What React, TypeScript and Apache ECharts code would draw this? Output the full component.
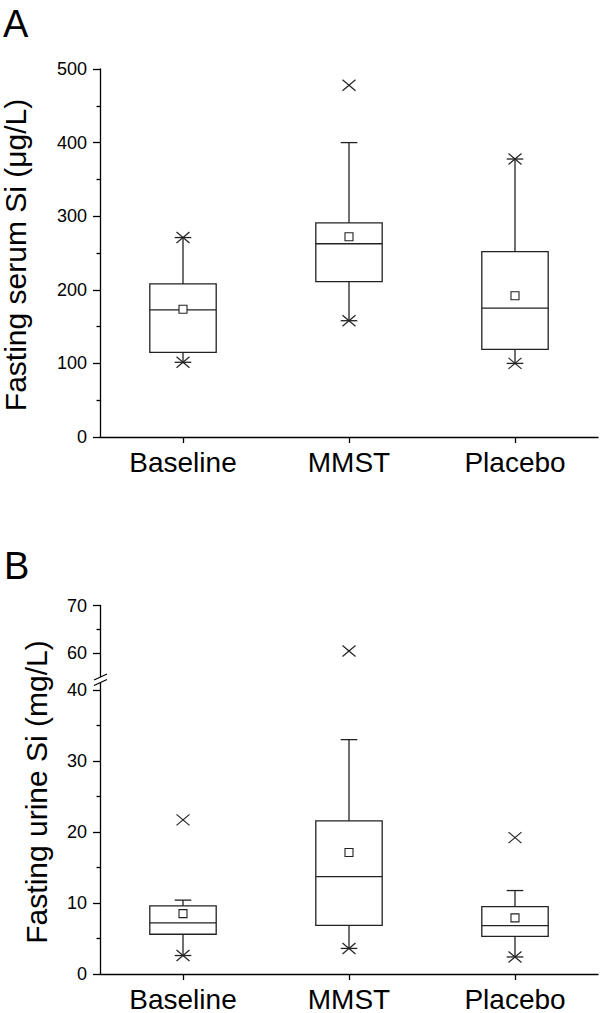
import React, { useEffect, useRef } from "react";
import * as echarts from "echarts";

// ---------- data ----------
const categories = ["Baseline", "MMST", "Placebo"];

// Panel A: fasting serum Si (µg/L)
const serumWhiskerLow = [101.5, 158, 100];
const serumQ1 = [115, 211, 119];
const serumMedian = [172.6, 262.6, 175];
const serumQ3 = [208, 291, 252];
const serumWhiskerHigh = [271, 400, 377.7];
const serumMean = [173.5, 272, 192];
const serumMin = [101.5, 158, 100];
const serumMax = [271, 478, 377.7];
const serumTicks = [0, 100, 200, 300, 400, 500];

// Panel B: fasting urine Si (mg/L)
const urineWhiskerLow = [2.6, 3.6, 2.4];
const urineQ1 = [5.6, 6.85, 5.3];
const urineMedian = [7.2, 13.7, 6.8];
const urineQ3 = [9.6, 21.55, 9.5];
const urineWhiskerHigh = [10.4, 33, 11.75];
const urineMean = [8.5, 17.1, 7.9];
const urineMin = [2.6, 3.6, 2.4];
const urineMax = [21.7, 60.4, 19.2];
const urineLowerTicks = [0, 10, 20, 30, 40];
const urineLowerMinorTicks = [5, 15, 25, 35];
const urineUpperTicks = [60, 70];
const urineUpperMinorTicks = [65];

// axis ranges
const SERUM_MIN = 0;
const SERUM_MAX = 500;
const URINE_LOW_MIN = 0;
const URINE_LOW_MAX = 41;
const URINE_HIGH_MIN = 55;
const URINE_HIGH_MAX = 70;

// ---------- styles ----------
const FONT = '"Liberation Sans", Arial, Helvetica, sans-serif';
const AXIS_COLOR = "#000";
const BOX_COLOR = "#222";
const LW = 1.3;

function boxData(lo: number[], q1: number[], md: number[], q3: number[], hi: number[], mean: number[]) {
  return categories.map((_, i) => [i, lo[i], q1[i], md[i], q3[i], hi[i], mean[i]]);
}

function renderBox(params: any, api: any) {
  const i = api.value(0);
  const lo = api.coord([i, api.value(1)]);
  const q1 = api.coord([i, api.value(2)]);
  const md = api.coord([i, api.value(3)]);
  const q3 = api.coord([i, api.value(4)]);
  const hi = api.coord([i, api.value(5)]);
  const mn = api.coord([i, api.value(6)]);
  const band = api.size([1, 0])[0];
  const boxW = band * 0.4;
  const capW = band * 0.1;
  const x = lo[0];
  const st = { stroke: BOX_COLOR, lineWidth: LW, fill: "none" };
  const ms = 8;
  return {
    type: "group",
    children: [
      { type: "line", shape: { x1: x, y1: q3[1], x2: x, y2: hi[1] }, style: st },
      { type: "line", shape: { x1: x, y1: q1[1], x2: x, y2: lo[1] }, style: st },
      { type: "line", shape: { x1: x - capW / 2, y1: hi[1], x2: x + capW / 2, y2: hi[1] }, style: st },
      { type: "line", shape: { x1: x - capW / 2, y1: lo[1], x2: x + capW / 2, y2: lo[1] }, style: st },
      {
        type: "rect",
        shape: { x: x - boxW / 2, y: q3[1], width: boxW, height: q1[1] - q3[1] },
        style: { stroke: BOX_COLOR, lineWidth: LW, fill: "none" },
      },
      { type: "line", shape: { x1: x - boxW / 2, y1: md[1], x2: x + boxW / 2, y2: md[1] }, style: st },
      {
        type: "rect",
        shape: { x: x - ms / 2, y: mn[1] - ms / 2, width: ms, height: ms },
        style: { stroke: BOX_COLOR, lineWidth: 1.1, fill: "#fff" },
      },
    ],
  };
}

function renderCross(params: any, api: any) {
  const p = api.coord([api.value(0), api.value(1)]);
  const hw = 6.5;
  const hh = 5.5;
  const st = { stroke: BOX_COLOR, lineWidth: 1.2, fill: "none" };
  return {
    type: "group",
    children: [
      { type: "line", shape: { x1: p[0] - hw, y1: p[1] - hh, x2: p[0] + hw, y2: p[1] + hh }, style: st },
      { type: "line", shape: { x1: p[0] - hw, y1: p[1] + hh, x2: p[0] + hw, y2: p[1] - hh }, style: st },
    ],
  };
}

function extremes(mins: number[], maxs: number[], lo: number, hi: number) {
  const out: number[][] = [];
  categories.forEach((_, i) => {
    [mins[i], maxs[i]].forEach((v) => {
      if (v >= lo && v <= hi) out.push([i, v]);
    });
  });
  return out;
}

const lineStyle = { color: AXIS_COLOR, width: LW };

function catAxis(gridIndex: number, showLabels: boolean) {
  return {
    gridIndex,
    type: "category",
    data: categories,
    boundaryGap: true,
    show: showLabels,
    axisLine: { show: true, onZero: false, lineStyle },
    axisTick: { show: true, alignWithLabel: true, length: 6, lineStyle },
    axisLabel: { show: true, fontSize: 28, color: "#000", fontFamily: FONT, margin: 11 },
    splitLine: { show: false },
  };
}

function valAxis(gridIndex: number, min: number, max: number, ticks: number[], labels: boolean) {
  return {
    gridIndex,
    type: "value",
    position: "left",
    min,
    max,
    axisLine: { show: labels, onZero: false, lineStyle },
    axisTick: { show: true, length: labels ? 7 : 3.5, lineStyle, customValues: ticks },
    axisLabel: labels
      ? { show: true, fontSize: 18, color: "#000", fontFamily: FONT, margin: 13, customValues: ticks }
      : { show: false },
    splitLine: { show: false },
  };
}

export default function App() {
  const ref = useRef<HTMLDivElement>(null);

  useEffect(() => {
    document.body.style.margin = "0";
    if (!ref.current) return;
    const chart = echarts.init(ref.current, null, { renderer: "svg" });

    const grids = [
      { left: 100, top: 69, width: 498, height: 368 },
      { left: 100, top: 605.5, width: 498, height: 71 },
      { left: 100, top: 682.8, width: 498, height: 291.9 },
    ];

    const option: any = {
      animation: false,
      backgroundColor: "#fff",
      grid: grids,
      xAxis: [catAxis(0, true), { ...catAxis(1, false), show: false }, catAxis(2, true)],
      yAxis: [
        {
          ...valAxis(0, SERUM_MIN, SERUM_MAX, serumTicks, true),
          interval: 100,
          minorTick: { show: true, splitNumber: 2, length: 3.5, lineStyle },
        },
        valAxis(1, URINE_HIGH_MIN, URINE_HIGH_MAX, urineUpperTicks, true),
        valAxis(2, URINE_LOW_MIN, URINE_LOW_MAX, urineLowerTicks, true),
        valAxis(1, URINE_HIGH_MIN, URINE_HIGH_MAX, urineUpperMinorTicks, false),
        valAxis(2, URINE_LOW_MIN, URINE_LOW_MAX, urineLowerMinorTicks, false),
      ],
      series: [
        {
          type: "custom",
          xAxisIndex: 0,
          yAxisIndex: 0,
          renderItem: renderBox,
          data: boxData(serumWhiskerLow, serumQ1, serumMedian, serumQ3, serumWhiskerHigh, serumMean),
          z: 5,
        },
        {
          type: "custom",
          xAxisIndex: 0,
          yAxisIndex: 0,
          renderItem: renderCross,
          data: extremes(serumMin, serumMax, SERUM_MIN, SERUM_MAX),
          z: 6,
        },
        {
          type: "custom",
          xAxisIndex: 2,
          yAxisIndex: 2,
          renderItem: renderBox,
          data: boxData(urineWhiskerLow, urineQ1, urineMedian, urineQ3, urineWhiskerHigh, urineMean),
          z: 5,
        },
        {
          type: "custom",
          xAxisIndex: 2,
          yAxisIndex: 2,
          renderItem: renderCross,
          data: extremes(urineMin, urineMax, URINE_LOW_MIN, URINE_LOW_MAX),
          z: 6,
        },
        {
          type: "custom",
          xAxisIndex: 1,
          yAxisIndex: 1,
          renderItem: renderCross,
          data: extremes(urineMin, urineMax, URINE_HIGH_MIN, URINE_HIGH_MAX),
          z: 6,
        },
      ],
      graphic: [
        {
          type: "text",
          x: 3,
          y: 24,
          style: { text: "A", fontSize: 38, fontFamily: FONT, fill: "#000", align: "left", verticalAlign: "middle" },
        },
        {
          type: "text",
          x: 4,
          y: 566,
          style: { text: "B", fontSize: 38, fontFamily: FONT, fill: "#000", align: "left", verticalAlign: "middle" },
        },
        {
          type: "text",
          x: 15,
          y: 255,
          rotation: Math.PI / 2,
          style: {
            text: "Fasting serum Si (μg/L)",
            fontSize: 30,
            fontFamily: FONT,
            fill: "#000",
            align: "center",
            verticalAlign: "middle",
          },
        },
        {
          type: "text",
          x: 36,
          y: 792,
          rotation: Math.PI / 2,
          style: {
            text: "Fasting urine Si (mg/L)",
            fontSize: 30,
            fontFamily: FONT,
            fill: "#000",
            align: "center",
            verticalAlign: "middle",
          },
        },
        {
          type: "line",
          shape: { x1: 94, y1: 680, x2: 107, y2: 674 },
          style: { stroke: "#000", lineWidth: 1.3 },
        },
        {
          type: "line",
          shape: { x1: 94, y1: 685.5, x2: 107, y2: 679.5 },
          style: { stroke: "#000", lineWidth: 1.3 },
        },
      ],
    };

    chart.setOption(option);
    return () => chart.dispose();
  }, []);

  return (
    <div
      ref={ref}
      style={{ position: "absolute", left: 0, top: 0, width: 600, height: 1013, background: "#fff" }}
    />
  );
}
